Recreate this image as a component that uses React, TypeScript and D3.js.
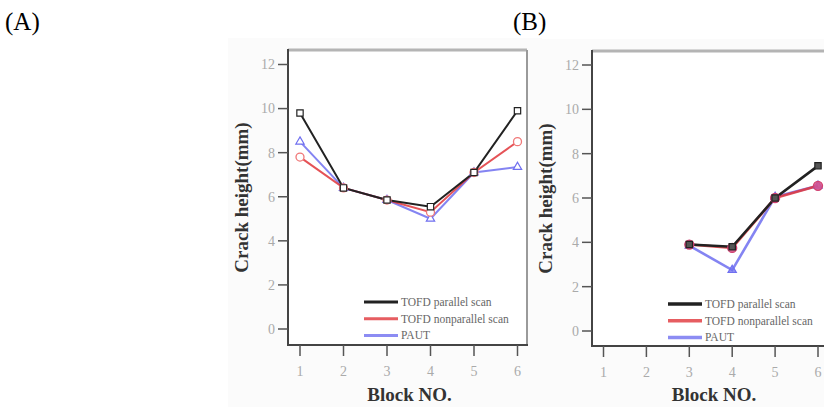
import * as d3 from "d3";
import React from "react";

// Block numbers and crack heights (mm)
const blockTicks = [1, 2, 3, 4, 5, 6];
const heightTicks = [0, 2, 4, 6, 8, 10, 12];

const blocksA = [1, 2, 3, 4, 5, 6];
const parallelA = [9.8, 6.4, 5.85, 5.55, 7.1, 9.9];
const nonparallelA = [7.8, 6.4, 5.85, 5.3, 7.1, 8.5];
const pautA = [8.5, 6.4, 5.85, 5.0, 7.1, 7.35];

const blocksB = [3, 4, 5, 6];
const parallelB = [3.9, 3.8, 6.0, 7.45];
const nonparallelB = [3.9, 3.75, 6.0, 6.55];
const pautB = [3.85, 2.75, 6.05, 6.55];

const seriesNames = ["TOFD parallel scan", "TOFD nonparallel scan", "PAUT"];

const serif = { fontFamily: '"Liberation Serif", "Times New Roman", Times, serif' };
const BLACK = "#222";
const RED = "#e0353a";
const BLUE = "#6f6ff0";

type PanelProps = {
  left: number;
  right: number;
  top: number;
  bottom: number;
  x1: number; // pixel of block 1
  x6: number; // pixel of block 6
  y0: number; // pixel of 0 mm
  y12: number; // pixel of 12 mm
  blocks: number[];
  parallel: number[];
  nonparallel: number[];
  paut: number[];
  legendX: number;
  legendY: number;
  titleX: number;
  filled: boolean;
};

const Panel = (p: PanelProps) => {
  const x = d3.scaleLinear().domain([1, 6]).range([p.x1, p.x6]);
  const y = d3.scaleLinear().domain([0, 12]).range([p.y0, p.y12]);
  const line = d3
    .line<number>()
    .x((_, i) => x(p.blocks[i]))
    .y((d) => y(d));

  const lw = p.filled ? 2.6 : 2;
  const sq = d3.symbol().type(d3.symbolSquare).size(40)();
  const tri = d3.symbol().type(d3.symbolTriangle).size(30)();

  return (
    <g>
      <rect x={p.left - 60} y={p.top - 12} width={p.right - p.left + 75} height={407 - p.top + 12} fill="#fbfbfb" />
      <rect x={p.left} y={p.top} width={p.right - p.left} height={p.bottom - p.top} fill="#fff" />

      {/* series */}
      <path d={line(p.paut) ?? ""} fill="none" stroke={BLUE} strokeWidth={lw} strokeOpacity={0.85} />
      <path d={line(p.nonparallel) ?? ""} fill="none" stroke={RED} strokeWidth={lw} strokeOpacity={0.85} />
      <path d={line(p.parallel) ?? ""} fill="none" stroke={BLACK} strokeWidth={lw} />

      {p.paut.map((v, i) => (
        <path key={"t" + i} d={tri ?? ""} transform={`translate(${x(p.blocks[i])},${y(v)})`}
          fill={p.filled ? BLUE : "#fff"} fillOpacity={p.filled ? 0.7 : 1} stroke={BLUE} strokeWidth={1.2} />
      ))}
      {p.nonparallel.map((v, i) => (
        <circle key={"c" + i} cx={x(p.blocks[i])} cy={y(v)} r={p.filled ? 4.5 : 4}
          fill={p.filled ? "#d8508a" : "#fff"} fillOpacity={p.filled ? 0.85 : 1}
          stroke={p.filled ? "#d04070" : "#f07878"} strokeWidth={1.3} />
      ))}
      {p.parallel.map((v, i) => (
        <path key={"s" + i} d={sq ?? ""} transform={`translate(${x(p.blocks[i])},${y(v)})`}
          fill={p.filled ? "#555" : "#fff"} stroke={BLACK} strokeWidth={1.2} />
      ))}

      {/* frame */}
      <line x1={p.left} x2={p.right} y1={p.top} y2={p.top} stroke="#b4b4b4" strokeWidth={3} />
      <line x1={p.right} x2={p.right} y1={p.top} y2={p.bottom} stroke="#9a9a9a" strokeWidth={2} />
      <line x1={p.left} x2={p.left} y1={p.top - 1} y2={p.bottom} stroke="#444" strokeWidth={2} />
      <line x1={p.left - 1} x2={p.right + 1} y1={p.bottom} y2={p.bottom} stroke="#444" strokeWidth={2} />

      {/* y axis */}
      {heightTicks.map((t) => (
        <g key={"y" + t}>
          <line x1={p.left - 10} x2={p.left} y1={y(t)} y2={y(t)} stroke="#555" strokeWidth={1.5} />
          <text x={p.left - 13} y={y(t)} dy="0.35em" textAnchor="end" style={serif} fontSize={14} fill="#aaa">
            {t}
          </text>
        </g>
      ))}
      {/* x axis */}
      {blockTicks.map((t) => (
        <g key={"x" + t}>
          <line x1={x(t)} x2={x(t)} y1={p.bottom} y2={p.bottom + 11} stroke="#555" strokeWidth={1.5} />
          <text x={x(t)} y={p.bottom + 31} textAnchor="middle" style={serif} fontSize={14} fill="#aaa">
            {t}
          </text>
        </g>
      ))}

      <text transform={`translate(${p.titleX},${(p.top + p.bottom) / 2}) rotate(-90)`} textAnchor="middle"
        style={serif} fontWeight="bold" fontSize={19} fill="#333">
        Crack height(mm)
      </text>
      <text x={(p.left + p.right) / 2 + 2} y={401} textAnchor="middle" style={serif} fontWeight="bold"
        fontSize={19} fill="#333">
        Block NO.
      </text>

      {/* legend */}
      {seriesNames.map((name, i) => {
        const ly = p.legendY + i * 16.7;
        const col = [BLACK, RED, BLUE][i];
        return (
          <g key={name}>
            <line x1={p.legendX} x2={p.legendX + 34} y1={ly} y2={ly} stroke={col} strokeWidth={p.filled ? 3.5 : 3}
              strokeOpacity={i === 0 ? 1 : 0.8} />
            <text x={p.legendX + 37} y={ly} dy="0.35em" style={serif} fontSize={11.5} fill="#666">
              {name}
            </text>
          </g>
        );
      })}
    </g>
  );
};

export default function App() {
  return (
    <svg width={824} height={407} style={{ position: "absolute", left: 0, top: 0, background: "#fff" }}>
      <rect width={824} height={407} fill="#fff" />
      <Panel left={288} right={527} top={50} bottom={345} x1={300} x6={517.5} y0={329} y12={64.5}
        blocks={blocksA} parallel={parallelA} nonparallel={nonparallelA} paut={pautA}
        legendX={364} legendY={302} titleX={248} filled={false} />
      <Panel left={592} right={832} top={51} bottom={346} x1={603.5} x6={818} y0={331} y12={65}
        blocks={blocksB} parallel={parallelB} nonparallel={nonparallelB} paut={pautB}
        legendX={668} legendY={304} titleX={552} filled={true} />
      <text x={5} y={30} style={serif} fontSize={25} fill="#000">(A)</text>
      <text x={513} y={30} style={serif} fontSize={25} fill="#000">(B)</text>
    </svg>
  );
}
